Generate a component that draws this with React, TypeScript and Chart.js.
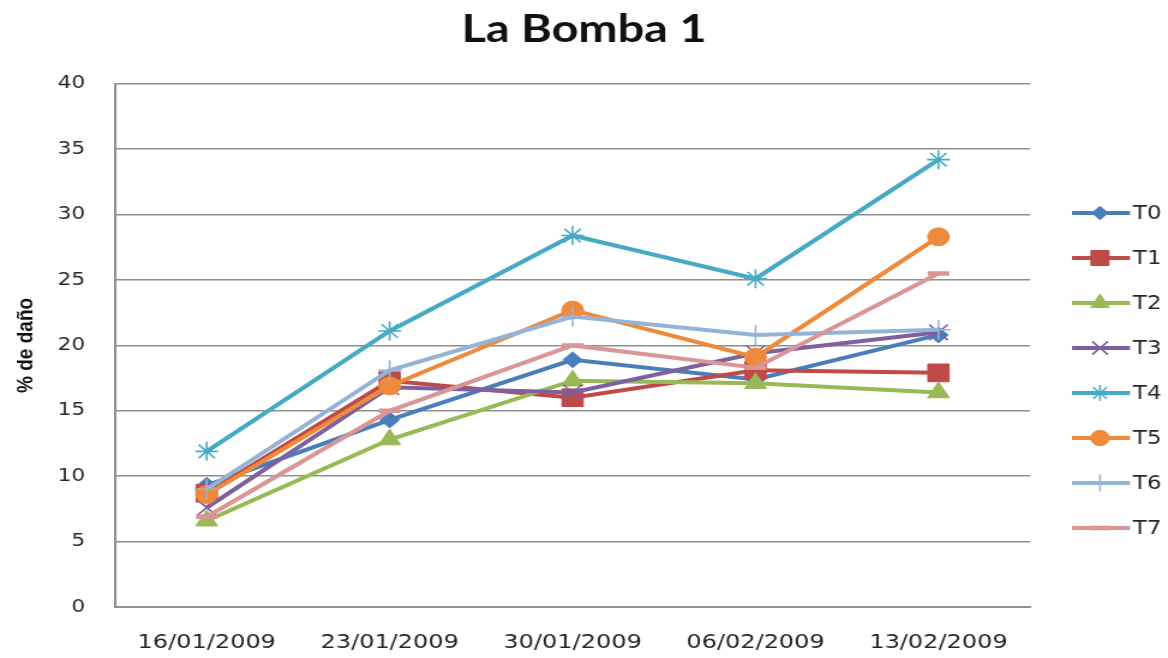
import React, { useEffect, useRef } from 'react';
import { Chart, registerables } from 'chart.js';
import { drawPoint } from 'chart.js/helpers';

Chart.register(...registerables);

// ---- data ----
const categories = ['16/01/2009', '23/01/2009', '30/01/2009', '06/02/2009', '13/02/2009'];
const seriesNames = ['T0', 'T1', 'T2', 'T3', 'T4', 'T5', 'T6', 'T7'];
const T0 = [9.3, 14.3, 18.9, 17.4, 20.8];
const T1 = [8.7, 17.3, 16.0, 18.1, 17.9];
const T2 = [6.6, 12.8, 17.3, 17.1, 16.4];
const T3 = [7.6, 16.8, 16.4, 19.4, 21.0];
const T4 = [11.9, 21.1, 28.4, 25.1, 34.2];
const T5 = [8.6, 16.9, 22.7, 19.1, 28.3];
const T6 = [9.0, 18.1, 22.2, 20.8, 21.2];
const T7 = [6.9, 15.0, 20.0, 18.3, 25.5];
const seriesValues = [T0, T1, T2, T3, T4, T5, T6, T7];
const yMin = 0;
const yMax = 40;
const yStep = 5;
const chartTitle = 'La Bomba 1';
const yAxisTitle = '% de daño';

// ---- styles ----
const lineColors = ['#4A7EBB', '#BE4B48', '#98B954', '#7D60A0', '#46AAC5', '#EE8A3C', '#95B3D7', '#D99694'];
const fillColors = ['#4A7EBB', '#BE4B48', '#98B954', '#7D60A0', '#46AAC5', '#EE8A3C', '#95B3D7', '#D99694'];
const pointStyles = ['rectRot', 'rect', 'triangle', 'crossRot', 'star', 'circle', 'cross', 'line'];
const pointRadii = [8, 12.5, 10.5, 11, 9.5, 9, 10, 9];
const pointBorderWidths = [1, 1, 1, 1.6, 1.6, 1, 1.6, 4.5];

const W = 973; // internal canvas width, stretched to 1168 by CSS
const H = 658;
const SX = 1168 / W;

const legendPlugin = {
  id: 'excelLegend',
  afterDraw(chart: any) {
    const ctx = chart.ctx as CanvasRenderingContext2D;
    const x0 = 1072 / SX;
    const x1 = 1130 / SX;
    const xm = 1100 / SX;
    const xt = 1133 / SX;
    const top = 213;
    const gap = 45;
    seriesNames.forEach((name, i) => {
      const y = top + i * gap;
      ctx.save();
      ctx.strokeStyle = lineColors[i];
      ctx.lineWidth = 4;
      ctx.lineCap = 'butt';
      ctx.beginPath();
      ctx.moveTo(x0, y);
      ctx.lineTo(x1, y);
      ctx.stroke();
      ctx.fillStyle = fillColors[i];
      ctx.strokeStyle = lineColors[i];
      ctx.lineWidth = pointBorderWidths[i];
      drawPoint(ctx, {
        pointStyle: pointStyles[i],
        radius: pointRadii[i] * 0.85,
        rotation: 0,
        borderWidth: pointBorderWidths[i],
      } as any, xm, y);
      ctx.fillStyle = '#262626';
      ctx.font = '19px "DejaVu Sans"';
      ctx.textBaseline = 'middle';
      ctx.textAlign = 'left';
      ctx.fillText(name, xt, y + 1);
      ctx.restore();
    });
  },
};

export default function App() {
  const ref = useRef<HTMLCanvasElement>(null);

  useEffect(() => {
    const canvas = ref.current;
    if (!canvas) return;
    const chart = new Chart(canvas, {
      type: 'line',
      data: {
        labels: categories,
        datasets: seriesValues.map((vals, i) => ({
          label: seriesNames[i],
          data: vals,
          yAxisID: 'y',
          borderColor: lineColors[i],
          backgroundColor: fillColors[i],
          borderWidth: 4,
          tension: 0,
          fill: false,
          pointStyle: pointStyles[i] as any,
          pointRadius: pointRadii[i],
          pointBackgroundColor: fillColors[i],
          pointBorderColor: lineColors[i],
          pointBorderWidth: pointBorderWidths[i],
          order: seriesNames.length - i,
        })),
      },
      options: {
        responsive: false,
        animation: false,
        devicePixelRatio: 1,
        layout: { padding: 0 },
        plugins: {
          legend: { display: false },
          tooltip: { enabled: false },
          title: {
            display: true,
            text: chartTitle,
            color: '#111',
            font: { family: 'Lato', size: 39, weight: 'bold' },
            padding: { top: 6, bottom: 31 },
          },
        },
        scales: {
          x: {
            offset: true,
            grid: { display: false, drawTicks: false },
            border: { display: true, color: '#8e8e8e', width: 2 },
            ticks: {
              color: '#262626',
              font: { family: 'DejaVu Sans', size: 20 },
              padding: 24,
              maxRotation: 0,
              autoSkip: false,
            },
            afterFit: (scale: any) => { scale.height = 51; },
          },
          y: {
            min: yMin,
            max: yMax,
            ticks: {
              stepSize: yStep,
              color: '#262626',
              font: { family: 'DejaVu Sans', size: 18 },
              padding: 25,
            },
            grid: { color: '#8e8e8e', lineWidth: 1.5, drawTicks: false },
            border: { display: true, color: '#8e8e8e', width: 2 },
            title: {
              display: true,
              text: yAxisTitle,
              color: '#111',
              font: { family: 'Liberation Sans', size: 19, weight: 'bold' },
              padding: { top: 10, bottom: 0 },
            },
            afterFit: (scale: any) => { scale.width = 96; },
          },
          legendSpace: {
            type: 'linear',
            position: 'right',
            display: true,
            ticks: { display: false },
            grid: { display: false, drawTicks: false },
            border: { display: false },
            afterFit: (scale: any) => { scale.width = 115; },
          },
        },
      },
      plugins: [legendPlugin],
    });
    return () => chart.destroy();
  }, []);

  return (
    <div style={{ position: 'fixed', left: 0, top: 0, width: 1168, height: 658, background: '#fff' }}>
      <canvas
        ref={ref}
        width={W}
        height={H}
        style={{ width: '1168px', height: '658px', display: 'block' }}
      />
    </div>
  );
}
